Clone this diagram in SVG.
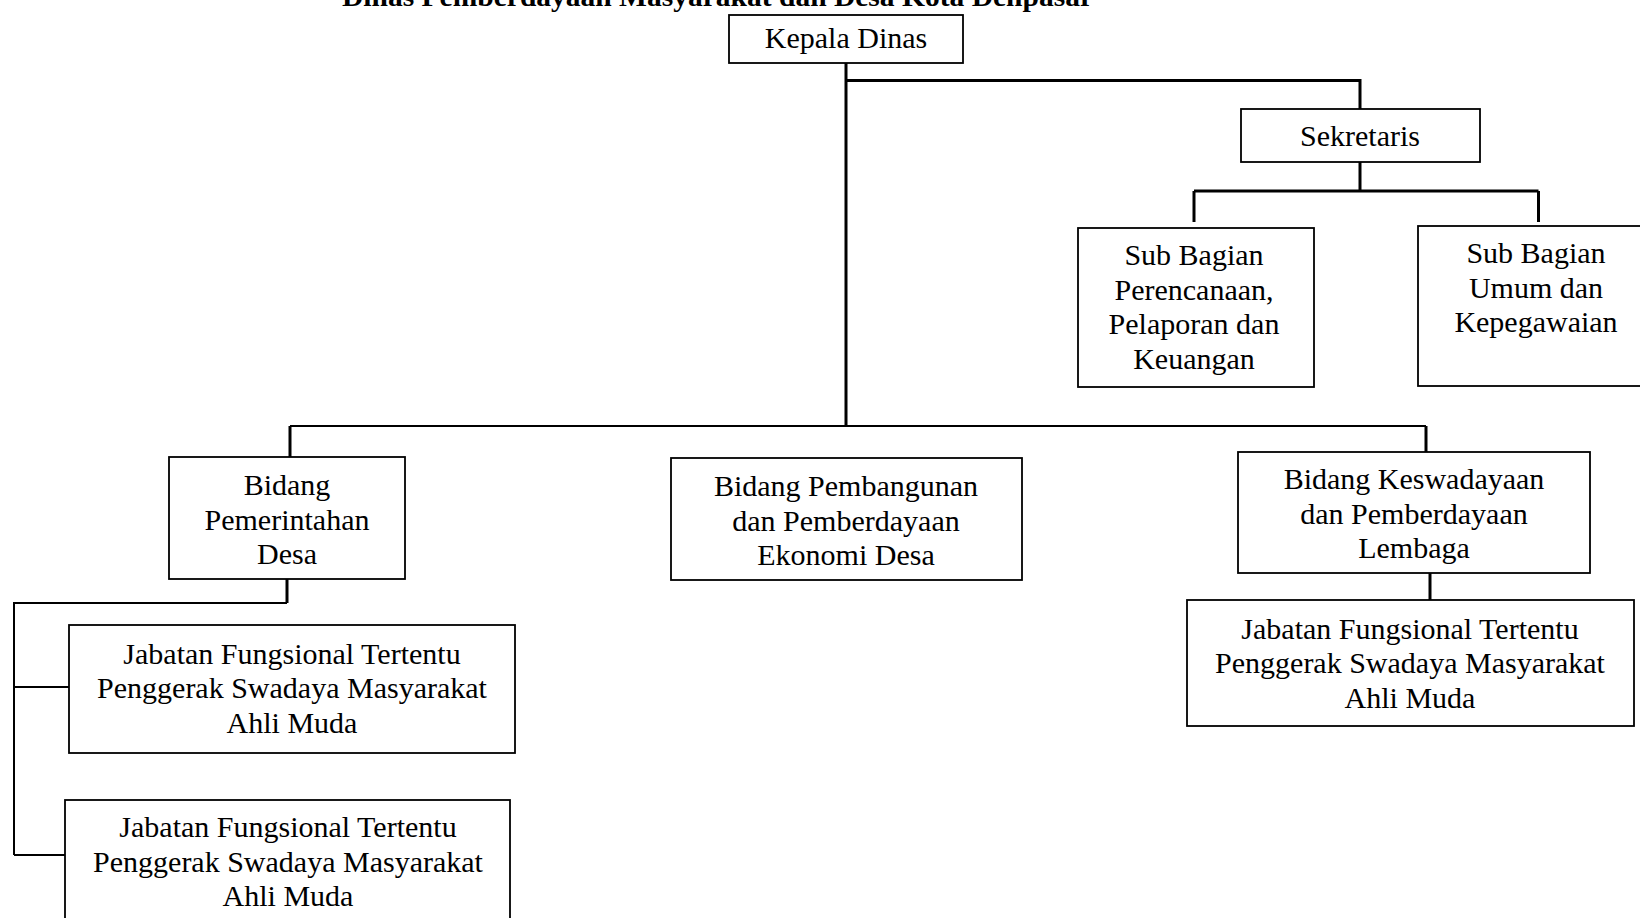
<svg xmlns="http://www.w3.org/2000/svg" width="1640" height="918" viewBox="0 0 1640 918">
<style>
.box{fill:#fff;stroke:#000;stroke-width:1.8}
.t{font-family:"Liberation Serif","Times New Roman",serif;font-size:30px;fill:#000;text-anchor:middle}
.ttl{font-family:"Liberation Serif","Times New Roman",serif;font-size:28px;font-weight:bold;fill:#000}
.c{fill:none;stroke:#000;stroke-width:3}
.c2{fill:none;stroke:#000;stroke-width:2}
</style>
<rect width="1640" height="918" fill="#fff"/>
<text class="ttl" x="342" y="6" textLength="751" lengthAdjust="spacingAndGlyphs">Dinas Pemberdayaan Masyarakat dan Desa Kota Denpasar</text>
<g id="connectors">
<path class="c" d="M846 63 V426"/>
<path class="c" d="M846 80.5 H1360 V109"/>
<path class="c" d="M1360 162 V191"/>
<path class="c" d="M1194 191 H1538.5"/>
<path class="c" d="M1194 191 V222"/>
<path class="c" d="M1538.5 191 V222"/>
<path class="c2" d="M290 426 H1426"/>
<path class="c" d="M290 426 V457"/>
<path class="c" d="M1426 426 V452"/>
<path class="c" d="M1430 573 V600"/>
<path class="c" d="M287 579 V603"/>
<path class="c2" d="M287 603 H14 V855"/>
<path class="c2" d="M14 687 H69"/>
<path class="c2" d="M14 855 H65"/>
</g>
<g id="kepala">
<rect class="box" x="729" y="15" width="234" height="48"/>
<text class="t" x="846" y="48">Kepala Dinas</text>
</g>
<g id="sekretaris">
<rect class="box" x="1241" y="109" width="239" height="53"/>
<text class="t" x="1360" y="146">Sekretaris</text>
</g>
<g id="subbagian-perencanaan">
<rect class="box" x="1078" y="228" width="236" height="159"/>
<text class="t" x="1194" y="265">Sub Bagian</text>
<text class="t" x="1194" y="300">Perencanaan,</text>
<text class="t" x="1194" y="334">Pelaporan dan</text>
<text class="t" x="1194" y="369">Keuangan</text>
</g>
<g id="subbagian-umum">
<rect class="box" x="1418" y="226" width="240" height="160"/>
<text class="t" x="1536" y="263">Sub Bagian</text>
<text class="t" x="1536" y="298">Umum dan</text>
<text class="t" x="1536" y="332">Kepegawaian</text>
</g>
<g id="bidang-pemerintahan">
<rect class="box" x="169" y="457" width="236" height="122"/>
<text class="t" x="287" y="495">Bidang</text>
<text class="t" x="287" y="530">Pemerintahan</text>
<text class="t" x="287" y="564">Desa</text>
</g>
<g id="bidang-pembangunan">
<rect class="box" x="671" y="458" width="351" height="122"/>
<text class="t" x="846" y="496">Bidang Pembangunan</text>
<text class="t" x="846" y="531">dan Pemberdayaan</text>
<text class="t" x="846" y="565">Ekonomi Desa</text>
</g>
<g id="bidang-keswadayaan">
<rect class="box" x="1238" y="452" width="352" height="121"/>
<text class="t" x="1414" y="489">Bidang Keswadayaan</text>
<text class="t" x="1414" y="524">dan Pemberdayaan</text>
<text class="t" x="1414" y="558">Lembaga</text>
</g>
<g id="jabatan-kanan">
<rect class="box" x="1187" y="600" width="447" height="126"/>
<text class="t" x="1410" y="639">Jabatan Fungsional Tertentu</text>
<text class="t" x="1410" y="673">Penggerak Swadaya Masyarakat</text>
<text class="t" x="1410" y="708">Ahli Muda</text>
</g>
<g id="jabatan-kiri-1">
<rect class="box" x="69" y="625" width="446" height="128"/>
<text class="t" x="292" y="664">Jabatan Fungsional Tertentu</text>
<text class="t" x="292" y="698">Penggerak Swadaya Masyarakat</text>
<text class="t" x="292" y="733">Ahli Muda</text>
</g>
<g id="jabatan-kiri-2">
<rect class="box" x="65" y="800" width="445" height="130"/>
<text class="t" x="288" y="837">Jabatan Fungsional Tertentu</text>
<text class="t" x="288" y="872">Penggerak Swadaya Masyarakat</text>
<text class="t" x="288" y="906">Ahli Muda</text>
</g>
</svg>
